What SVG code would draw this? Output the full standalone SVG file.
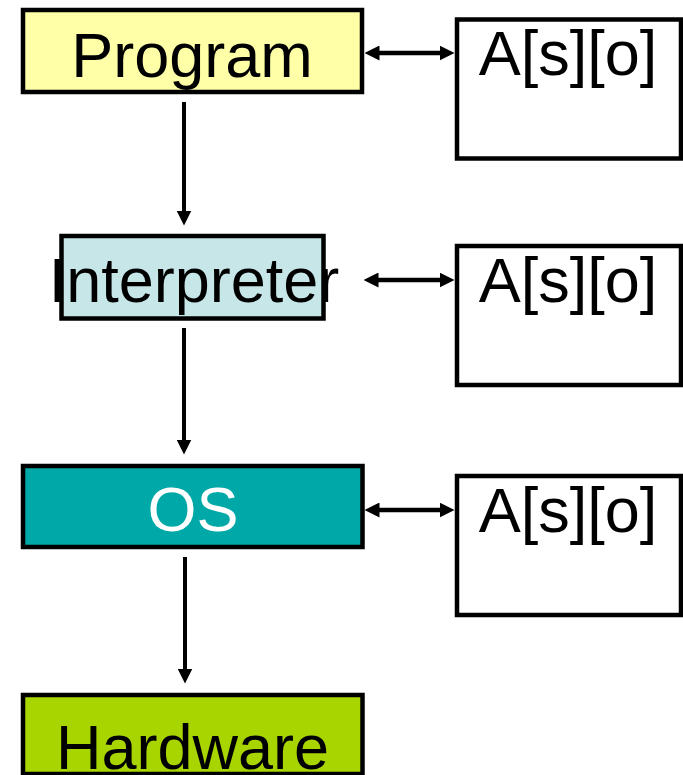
<svg xmlns="http://www.w3.org/2000/svg" width="683" height="775" viewBox="0 0 683 775">
  <style>
    .box { stroke: #000; stroke-width: 4.5; }
    .lbl { font-family: "Liberation Sans", Arial, sans-serif; font-size: 63px; text-anchor: middle; fill: #000; }
    .conn { stroke: #000; stroke-width: 4; fill: none; }
    .bi { stroke-width: 4.5; }
  </style>
  <defs>
    <marker id="ah" viewBox="0 0 15 15" markerWidth="15" markerHeight="15" refX="0.5" refY="7.5" orient="auto-start-reverse" markerUnits="userSpaceOnUse">
      <path d="M0,0 L15,7.5 L0,15 z" fill="#000"/>
    </marker>
  </defs>
  <rect width="683" height="775" fill="#fff"/>

  <g id="program">
    <rect class="box" x="23" y="10" width="339" height="82" fill="#FFFFA8"/>
    <text class="lbl" x="192" y="77">Program</text>
  </g>
  <g id="interpreter">
    <rect class="box" x="61.5" y="236" width="262" height="82.5" fill="#C6E6E8"/>
    <text class="lbl" x="194" y="302">Interpreter</text>
  </g>
  <g id="os">
    <rect class="box" x="23" y="466" width="339.5" height="81" fill="#00A8A8"/>
    <text class="lbl" x="193" y="531" style="fill:#fff">OS</text>
  </g>
  <g id="hardware">
    <rect class="box" x="23" y="695" width="339.5" height="79" fill="#A8D400"/>
    <text class="lbl" x="192.5" y="769">Hardware</text>
  </g>
  <g id="acl1">
    <rect class="box" x="457" y="19.5" width="224" height="139" fill="#fff"/>
    <text class="lbl" x="568" y="75">A[s][o]</text>
  </g>
  <g id="acl2">
    <rect class="box" x="457" y="246" width="224" height="139" fill="#fff"/>
    <text class="lbl" x="568" y="302">A[s][o]</text>
  </g>
  <g id="acl3">
    <rect class="box" x="457" y="476" width="224" height="139" fill="#fff"/>
    <text class="lbl" x="568" y="532">A[s][o]</text>
  </g>

  <g id="connectors">
    <path class="conn" d="M184,102 L184,211" marker-end="url(#ah)"/>
    <path class="conn" d="M184,328 L184,440" marker-end="url(#ah)"/>
    <path class="conn" d="M185,557 L185,669" marker-end="url(#ah)"/>
    <path class="conn bi" d="M379,53 L440,53" marker-start="url(#ah)" marker-end="url(#ah)"/>
    <path class="conn bi" d="M378,280 L440,280" marker-start="url(#ah)" marker-end="url(#ah)"/>
    <path class="conn bi" d="M379,510 L440,510" marker-start="url(#ah)" marker-end="url(#ah)"/>
  </g>
</svg>
